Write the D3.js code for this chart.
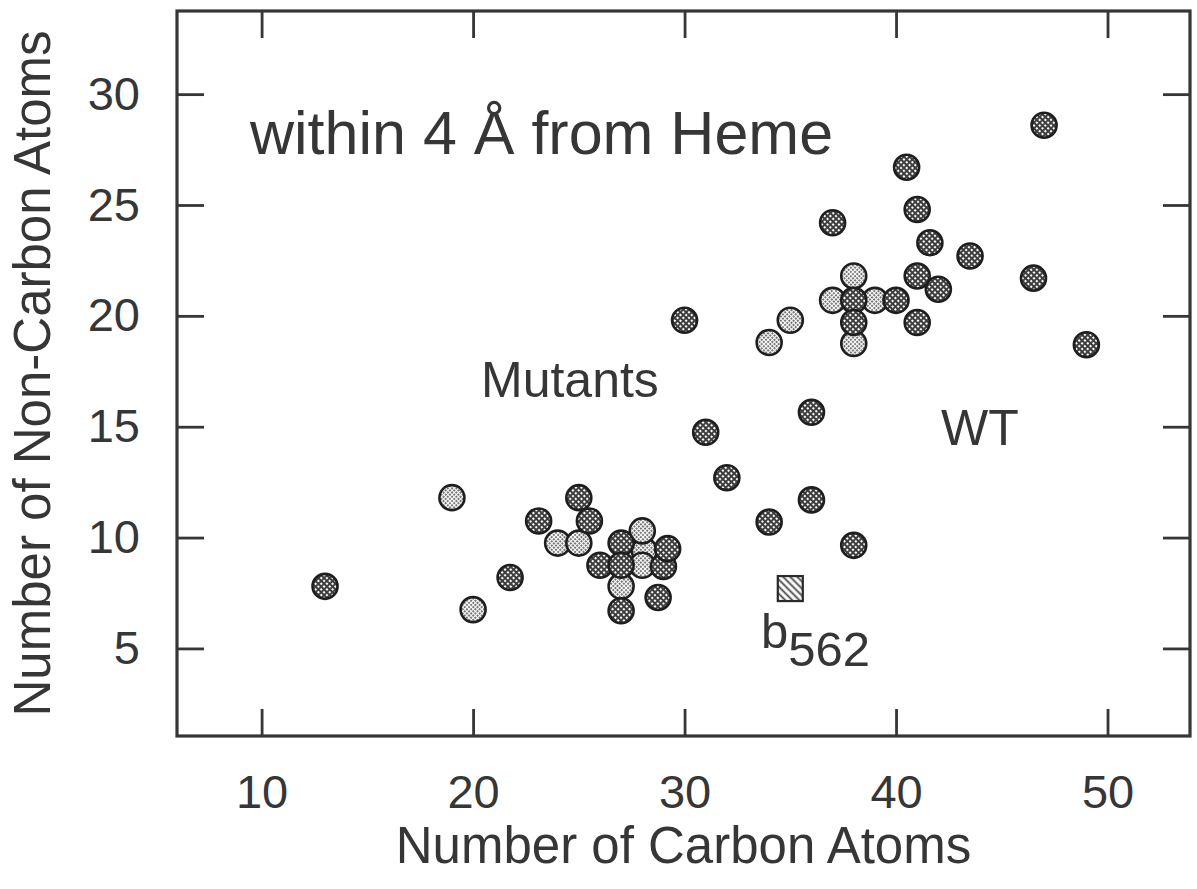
<!DOCTYPE html>
<html>
<head>
<meta charset="utf-8">
<script src="https://cdn.jsdelivr.net/npm/d3@7"></script>
<style>
  html, body { margin: 0; padding: 0; background: #fff; }
  svg { display: block; font-family: "Liberation Sans", Arial, Helvetica, sans-serif; }
</style>
</head>
<body>
<svg id="chart" width="1197" height="889"></svg>
<script>
// points: [carbon atoms, non-carbon atoms]
var darkPoints = [
  [13, 7.8], [21.75, 8.2], [23.1, 10.75], [25, 11.8], [25.5, 10.75], [26, 8.75],
  [27, 9.75], [27, 8.75], [27, 6.7], [28.75, 7.3], [29, 8.7], [29.2, 9.5],
  [30, 19.8], [31, 14.75], [32, 12.7], [34, 10.7], [36, 15.65], [36, 11.7],
  [38, 9.65], [37, 24.2], [38, 20.7], [38, 19.7], [40, 20.7], [40.5, 26.7],
  [41, 24.8], [41.6, 23.3], [41, 21.8], [42, 21.2], [41, 19.7], [43.5, 22.7],
  [46.5, 21.7], [47, 28.6], [49, 18.7]
]
var lightPoints = [
  [19, 11.8], [20, 6.75], [24, 9.75], [25, 9.75], [28.1, 9.4], [28, 10.3],
  [28, 8.75], [27, 7.8], [34, 18.8], [35, 19.8], [37, 20.7], [38, 21.8],
  [39, 20.7], [38, 18.75]
]
var squarePoints = [[35, 7.7]]

var xTicks = [10, 20, 30, 40, 50]
var yTicks = [5, 10, 15, 20, 25, 30]

var ink = '#363636'

var svg = d3.select('#chart')
// plot frame
var margin = {top: 11, right: 7, bottom: 153, left: 177}
var width = 1197 - margin.left - margin.right
var height = 889 - margin.top - margin.bottom

var x = d3.scaleLinear().domain([6, 53.9]).range([0, width])
var y = d3.scaleLinear().domain([1.05, 33.75]).range([height, 0])

// fill patterns
var defs = svg.append('defs')
var pDark = defs.append('pattern')
  .attr('id', 'darkFill').attr('patternUnits', 'userSpaceOnUse')
  .attr('width', 4).attr('height', 4)
  .attr('patternTransform', 'rotate(45)')
pDark.append('rect').attr('width', 4).attr('height', 4).attr('fill', '#fff')
pDark.append('path').attr('d', 'M0,1 H4 M1,0 V4')
  .attr('stroke', '#3c3c3c').attr('stroke-width', 1.9)

var pLight = defs.append('pattern')
  .attr('id', 'lightFill').attr('patternUnits', 'userSpaceOnUse')
  .attr('width', 3).attr('height', 3)
  .attr('patternTransform', 'rotate(-45)')
pLight.append('rect').attr('width', 3).attr('height', 3).attr('fill', '#fff')
pLight.append('path').attr('d', 'M0,1 H3')
  .attr('stroke', '#4a4a4a').attr('stroke-width', 1.3).attr('stroke-dasharray', '2,1')

var pSquare = defs.append('pattern')
  .attr('id', 'squareFill').attr('patternUnits', 'userSpaceOnUse')
  .attr('width', 5).attr('height', 5)
  .attr('patternTransform', 'rotate(45)')
pSquare.append('rect').attr('width', 5).attr('height', 5).attr('fill', '#fff')
pSquare.append('path').attr('d', 'M0,1.5 H5')
  .attr('stroke', '#444').attr('stroke-width', 1.8)

var g = svg.append('g')
  .attr('transform', 'translate(' + margin.left + ',' + margin.top + ')')

// axes, ticks pointing inward
var tickLen = -27
g.append('g')
  .attr('class', 'axis-bottom')
  .attr('transform', 'translate(0,' + height + ')')
  .call(d3.axisBottom(x).tickValues(xTicks).tickSize(tickLen).tickPadding(39))
g.append('g')
  .attr('class', 'axis-top')
  .call(d3.axisTop(x).tickValues(xTicks).tickSize(tickLen).tickFormat(''))
g.append('g')
  .attr('class', 'axis-left')
  .call(d3.axisLeft(y).tickValues(yTicks).tickSize(tickLen).tickPadding(37))
g.append('g')
  .attr('class', 'axis-right')
  .attr('transform', 'translate(' + width + ',0)')
  .call(d3.axisRight(y).tickValues(yTicks).tickSize(tickLen).tickFormat(''))

g.selectAll('.domain').remove()
g.selectAll('.tick line').attr('stroke', ink).attr('stroke-width', 2.8)
g.selectAll('.tick text')
  .attr('fill', ink)
  .style('font-size', '47px')
  .style('font-family', '"Liberation Sans", Arial, Helvetica, sans-serif')

// frame
g.append('rect')
  .attr('width', width).attr('height', height)
  .attr('fill', 'none').attr('stroke', ink).attr('stroke-width', 3.2)

// points
var r = 12.5
g.append('g').selectAll('circle')
  .data(lightPoints)
  .enter()
  .append('circle')
  .attr('cx', (d) => x(d[0]))
  .attr('cy', (d) => y(d[1]))
  .attr('r', r)
  .attr('fill', 'url(#lightFill)')
  .attr('stroke', '#1e1e1e')
  .attr('stroke-width', 2.6)

g.append('g').selectAll('circle')
  .data(darkPoints)
  .enter()
  .append('circle')
  .attr('cx', (d) => x(d[0]))
  .attr('cy', (d) => y(d[1]))
  .attr('r', r)
  .attr('fill', 'url(#darkFill)')
  .attr('stroke', '#1e1e1e')
  .attr('stroke-width', 2.6)

var sq = 25
g.append('g').selectAll('rect')
  .data(squarePoints)
  .enter()
  .append('rect')
  .attr('x', (d) => x(d[0]) - sq / 2)
  .attr('y', (d) => y(d[1]) - sq / 2)
  .attr('width', sq)
  .attr('height', sq)
  .attr('fill', 'url(#squareFill)')
  .attr('stroke', '#2a2a2a')
  .attr('stroke-width', 2.2)

// annotations
svg.append('text')
  .attr('x', 250).attr('y', 154)
  .attr('fill', ink).style('font-size', '61px')
  .text('within 4 Å from Heme')

svg.append('text')
  .attr('x', 481).attr('y', 397)
  .attr('fill', ink).style('font-size', '50px')
  .text('Mutants')

svg.append('text')
  .attr('x', 941).attr('y', 445)
  .attr('fill', ink).style('font-size', '50px')
  .text('WT')

var lbl = svg.append('text')
  .attr('x', 761).attr('y', 648)
  .attr('fill', ink).style('font-size', '49px')
lbl.append('tspan').text('b')
lbl.append('tspan').attr('dy', 18).text('562')

// axis titles
svg.append('text')
  .attr('x', margin.left + width / 2).attr('y', 863)
  .attr('text-anchor', 'middle')
  .attr('fill', ink).style('font-size', '51px')
  .text('Number of Carbon Atoms')

svg.append('text')
  .attr('transform', 'translate(50,' + (margin.top + height / 2) + ') rotate(-90)')
  .attr('text-anchor', 'middle')
  .attr('fill', ink).style('font-size', '51px')
  .text('Number of Non-Carbon Atoms')
</script>
</body>
</html>
